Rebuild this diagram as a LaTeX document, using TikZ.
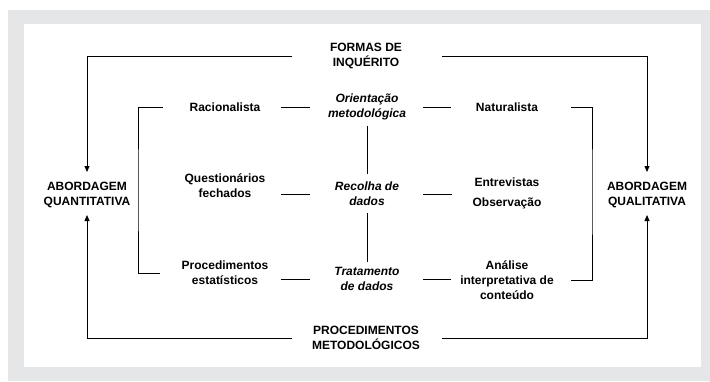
\documentclass[tikz,border=0pt]{standalone}
\usepackage{fontspec}
\setmainfont{Liberation Sans}
\usetikzlibrary{arrows.meta}
\definecolor{frame}{HTML}{E5E6E7}
\tikzset{
  lbl/.style={font=\fontsize{12bp}{15bp}\selectfont\bfseries, align=center, inner sep=0pt},
  midlbl/.style={lbl, font=\fontsize{12bp}{15bp}\selectfont\bfseries\itshape},
  conn/.style={line width=0.8bp},
  arr/.style={conn, -{Triangle[length=6bp,width=5bp]}}
}

\begin{document}
\begin{tikzpicture}[x=1bp,y=-1bp]
	\useasboundingbox (0,0) rectangle (710,381);
	\fill[frame] (8,10) rectangle (710,381);
	\fill[white] (24,24) rectangle (701,367);

	% outer labels
	\node[lbl] (forms) at (366,56) {FORMAS DE\\INQUÉRITO};
	\node[lbl] (procmet) at (366,338) {PROCEDIMENTOS\\METODOLÓGICOS};
	\node[lbl] (quant) at (87,195) {ABORDAGEM\\QUANTITATIVA};
	\node[lbl] (qual) at (647,195) {ABORDAGEM\\QUALITATIVA};

	% middle column
	\node[midlbl] (orient) at (367,107) {Orientação\\metodológica};
	\node[midlbl] (recolha) at (367,194) {Recolha de\\dados};
	\node[midlbl] (trat) at (367,279) {Tratamento\\de dados};

	% left column
	\node[lbl] (racio) at (225,107) {Racionalista};
	\node[lbl] (quest) at (225,186) {Questionários\\fechados};
	\node[lbl] (proced) at (225,273) {Procedimentos\\estatísticos};

	% right column
	\node[lbl] (natur) at (507,107) {Naturalista};
	\node[lbl] (entrev) at (507,193) {Entrevistas\\[5bp]Observação};
	\node[lbl] (analise) at (507,280) {Análise\\interpretativa de\\conteúdo};

	\coordinate (lbar) at (138,190);
	\coordinate (rbar) at (592,190);

	% arrows to the two approaches
	\draw[arr, shorten <=74bp, shorten >=23bp] (forms.center) -| (quant.center);
	\draw[arr, shorten <=76bp, shorten >=23bp] (forms.center) -| (qual.center);
	\draw[arr, shorten <=74bp, shorten >=20bp] (procmet.center) -| (quant.center);
	\draw[arr, shorten <=76bp, shorten >=20bp] (procmet.center) -| (qual.center);

	% dashes
	\draw[conn, shorten <=56bp, shorten >=57bp] (racio.center) -- (orient.center);
	\draw[conn, shorten <=56bp, shorten >=56bp] (orient.center) -- (natur.center);
	\draw[conn, shorten <=56bp, shorten >=57bp] (quest.center |- recolha.center) -- (recolha.center);
	\draw[conn, shorten <=56bp, shorten >=55bp] (recolha.center) -- (entrev.center |- recolha.center);
	\draw[conn, shorten <=56bp, shorten >=57bp] (proced.center |- trat.center) -- (trat.center);
	\draw[conn, shorten <=56bp, shorten >=56bp] (trat.center) -- (analise.center |- trat.center);

	% middle spine
	\draw[conn, shorten <=19bp, shorten >=20bp] (orient.center) -- (recolha.center);
	\draw[conn, shorten <=19bp, shorten >=17bp] (recolha.center) -- (trat.center);

	% brackets
	\draw[conn, shorten <=62bp, shorten >=65bp] (racio.center) -| (lbar) |- (proced.center);
	\draw[conn, shorten <=64bp, shorten >=64bp] (natur.center) -| (rbar) |- (analise.center);
\end{tikzpicture}
\end{document}
